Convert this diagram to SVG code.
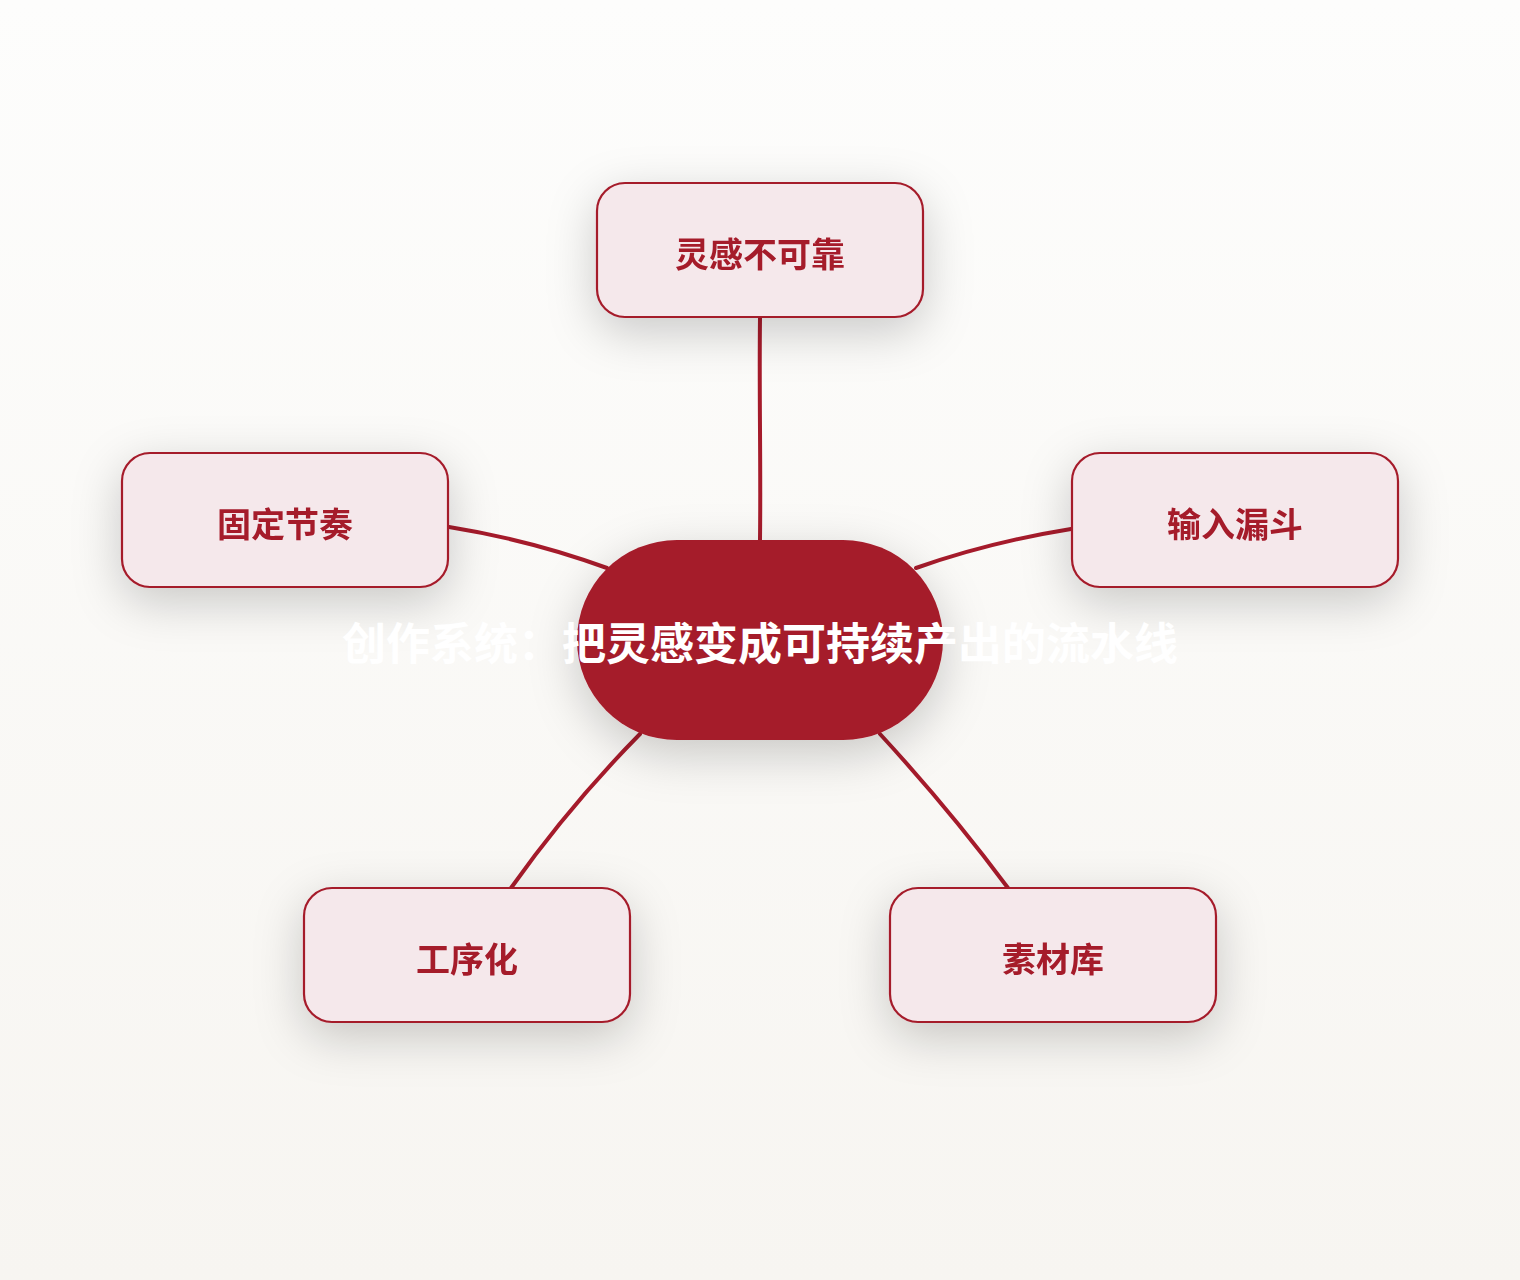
<svg xmlns="http://www.w3.org/2000/svg" width="1520" height="1280" viewBox="0 0 1520 1280">
<defs>
<linearGradient id="bg" x1="0" y1="0" x2="0" y2="1">
<stop offset="0" stop-color="#FDFDFC"/>
<stop offset="1" stop-color="#F7F5F1"/>
</linearGradient>
<filter id="sh" x="-40%" y="-60%" width="180%" height="230%">
<feDropShadow dx="0" dy="14" stdDeviation="24" flood-color="#000" flood-opacity="0.2"/>
</filter>
</defs>
<style>
.edge{fill:none;stroke:#A51B2B;stroke-width:4;stroke-linecap:round}
.box{fill:#F5E8EB;stroke:#A51B2B;stroke-width:2.2}
.lbl{font-family:"Noto Sans CJK SC","Noto Sans",sans-serif;font-weight:700;font-size:34px;fill:#A51B2B;text-anchor:middle;dominant-baseline:central}
.hub{fill:#A51B2B}
.hublbl{font-family:"Noto Sans CJK SC","Noto Sans",sans-serif;font-weight:700;font-size:44px;fill:#FFFFFF;text-anchor:middle;dominant-baseline:central}
</style>
<rect width="1520" height="1280" fill="url(#bg)"/>
<g id="connectors">
<path class="edge" d="M760,318 C759,400 761,460 760,540"/>
<path class="edge" d="M449,527 Q530,540 607,568"/>
<path class="edge" d="M1071,529 Q990,542 916,568"/>
<path class="edge" d="M640,734 Q570,805 511,888"/>
<path class="edge" d="M880,734 Q950,810 1008,888"/>
</g>
<g id="node-top" filter="url(#sh)">
<rect class="box" x="597" y="183" width="326" height="134" rx="28"/>
<text class="lbl" x="760" y="252">灵感不可靠</text>
</g>
<g id="node-left" filter="url(#sh)">
<rect class="box" x="122" y="453" width="326" height="134" rx="28"/>
<text class="lbl" x="285" y="522">固定节奏</text>
</g>
<g id="node-right" filter="url(#sh)">
<rect class="box" x="1072" y="453" width="326" height="134" rx="28"/>
<text class="lbl" x="1235" y="522">输入漏斗</text>
</g>
<g id="node-bl" filter="url(#sh)">
<rect class="box" x="304" y="888" width="326" height="134" rx="28"/>
<text class="lbl" x="467" y="957">工序化</text>
</g>
<g id="node-br" filter="url(#sh)">
<rect class="box" x="890" y="888" width="326" height="134" rx="28"/>
<text class="lbl" x="1053" y="957">素材库</text>
</g>
<g id="node-center">
<rect class="hub" x="577" y="540" width="366" height="200" rx="100" filter="url(#sh)"/>
<text class="hublbl" x="760" y="641">创作系统：把灵感变成可持续产出的流水线</text>
</g>
</svg>
